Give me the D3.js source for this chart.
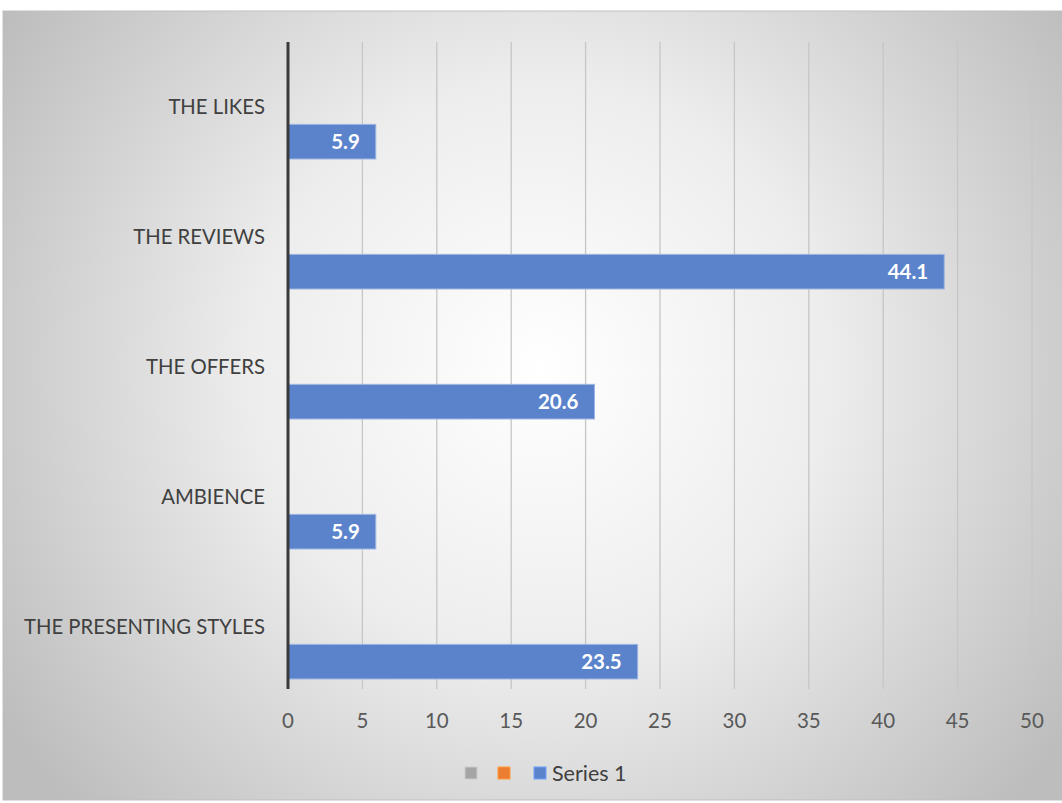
<!DOCTYPE html>
<html><head><meta charset="utf-8">
<script src="https://cdn.jsdelivr.net/npm/d3@7"></script>
<style>html,body{margin:0;padding:0;background:#fff;}svg{display:block;}</style>
</head><body><svg id="c" width="1062" height="803"></svg>
<script>
const categories = ["THE LIKES","THE REVIEWS","THE OFFERS","AMBIENCE","THE PRESENTING STYLES"];
const series1 = [5.9, 44.1, 20.6, 5.9, 23.5];
const xTicks = [0,5,10,15,20,25,30,35,40,45,50];
const seriesNames = ["", "", "Series 1"];
const seriesColors = ["#a5a5a5", "#ed7d31", "#5a83cc"];

(function(){
const svg = d3.select("#c");
const defs = svg.append("defs");
const rg = defs.append("radialGradient").attr("id","bg").attr("gradientUnits","userSpaceOnUse")
  .attr("cx",540).attr("cy",370).attr("r",640);
rg.append("stop").attr("offset","0").attr("stop-color","#ffffff");
rg.append("stop").attr("offset","0.45").attr("stop-color","#ededed");
rg.append("stop").attr("offset","1").attr("stop-color","#bdbdbd");

svg.append("rect").attr("x",3).attr("y",11).attr("width",1062).attr("height",789)
  .attr("fill","url(#bg)").attr("stroke","#bfbfbf").attr("stroke-width",1);

const pl=288, pr=1032, pt=42, pb=692;
const x = d3.scaleLinear().domain([0,50]).range([pl,pr]);
const y = d3.scaleBand().domain(categories).range([pt,pb]);
const sub = d3.scaleBand().domain([0,1,2]).range([0,y.bandwidth()]).paddingInner(0).paddingOuter(0.375);

const font = "Lato, 'Open Sans', sans-serif";

svg.append("g").selectAll("line").data(xTicks.filter(d=>d>0)).join("line")
  .attr("x1",d=>x(d)).attr("x2",d=>x(d)).attr("y1",pt).attr("y2",pb-3)
  .attr("stroke","#c6c6c6").attr("stroke-width",1.3);

svg.append("g").selectAll("rect").data(categories).join("rect")
  .attr("x",x(0)).attr("y",(d)=>y(d)+sub(2))
  .attr("width",(d,i)=>x(series1[i])-x(0)).attr("height",sub.bandwidth())
  .attr("fill",seriesColors[2]).attr("stroke","#9fb6e2").attr("stroke-width",1);

svg.append("g").selectAll("text").data(categories).join("text")
  .attr("x",(d,i)=>x(series1[i])-16).attr("y",d=>y(d)+sub(2)+sub.bandwidth()/2)
  .attr("dy","0.36em").attr("text-anchor","end")
  .attr("fill","#fff").attr("font-weight","bold").attr("font-size",20.5).attr("font-family",font)
  .text((d,i)=>series1[i]);

svg.append("line").attr("x1",x(0)).attr("x2",x(0)).attr("y1",pt).attr("y2",pb-3)
  .attr("stroke","#3a3a3a").attr("stroke-width",3);

svg.append("g").selectAll("text").data(categories).join("text")
  .attr("x",265).attr("y",d=>y(d)+sub(1)+sub.bandwidth()/2).attr("dy","0.36em")
  .attr("text-anchor","end").attr("fill","#404040").attr("font-size",20.3).attr("font-family",font)
  .text(d=>d);

svg.append("g").selectAll("text").data(xTicks).join("text")
  .attr("x",d=>x(d)).attr("y",721).attr("dy","0.36em").attr("text-anchor","middle")
  .attr("fill","#595959").attr("font-size",20.5).attr("font-family",font).text(d=>d);

const lg = svg.append("g");
const lx = [471, 504, 540];
seriesColors.forEach((c,i)=>{
  lg.append("rect").attr("x",lx[i]-6).attr("y",767).attr("width",12).attr("height",12)
    .attr("fill",c).attr("stroke",d3.color(c).brighter(0.6)).attr("stroke-width",1);
  if(seriesNames[i]) lg.append("text").attr("x",lx[i]+12).attr("y",773).attr("dy","0.36em")
    .attr("fill","#404040").attr("font-size",21.5).attr("font-family",font).text(seriesNames[i]);
});
})();
</script></body></html>
